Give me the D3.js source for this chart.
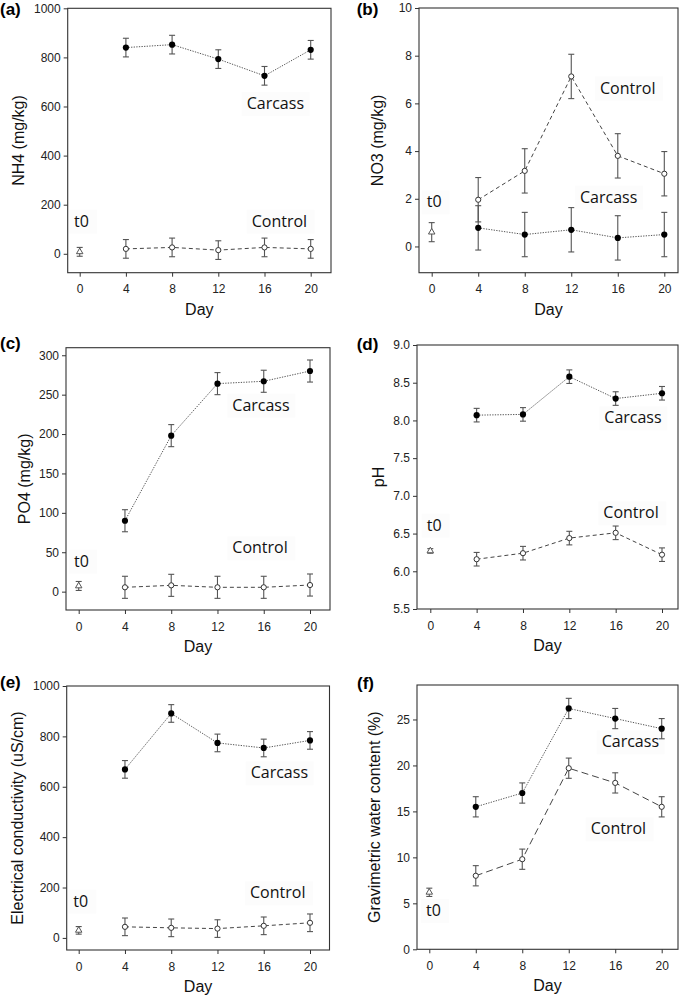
<!DOCTYPE html>
<html><head><meta charset="utf-8">
<script src="https://cdn.jsdelivr.net/npm/d3@7/dist/d3.min.js"></script>
<style>body{margin:0;background:#fff}svg{display:block}</style>
</head><body>
<svg id="chart" width="685" height="995"></svg>
<script>
// ---------- DATA ----------
const days = [4, 8, 12, 16, 20];
const t0Day = 0;
const xTicks = [0, 4, 8, 12, 16, 20];

// (a) NH4 (mg/kg)
const nh4Carcass = [840, 852, 793, 725, 831];
const nh4CarcassErr = [38, 38, 38, 38, 38];
const nh4Control = [20, 26, 15, 26, 20];
const nh4ControlErr = [38, 38, 38, 38, 38];
const nh4T0 = 8, nh4T0Err = 18;
const nh4Ticks = [0, 200, 400, 600, 800, 1000];

// (b) NO3 (mg/kg)
const no3Carcass = [0.78, 0.50, 0.70, 0.36, 0.50];
const no3CarcassErr = [0.93, 0.93, 0.93, 0.93, 0.93];
const no3Control = [1.96, 3.17, 7.13, 3.80, 3.05];
const no3ControlErr = [0.93, 0.93, 0.93, 0.93, 0.93];
const no3T0 = 0.6, no3T0Err = 0.4;
const no3Ticks = [0, 2, 4, 6, 8, 10];

// (c) PO4 (mg/kg)
const po4Carcass = [90, 198, 264, 267, 280];
const po4CarcassErr = [14, 14, 14, 14, 14];
const po4Control = [5.5, 8, 5.5, 5.5, 8.4];
const po4ControlErr = [14, 14, 14, 14, 14];
const po4T0 = 7.2, po4T0Err = 5.7;
const po4Ticks = [0, 50, 100, 150, 200, 250, 300];

// (d) pH
const phCarcass = [8.07, 8.08, 8.58, 8.29, 8.36];
const phCarcassErr = [0.09, 0.09, 0.09, 0.09, 0.09];
const phControl = [6.16, 6.24, 6.44, 6.51, 6.22];
const phControlErr = [0.09, 0.09, 0.09, 0.09, 0.09];
const phT0 = 6.27, phT0Err = 0.03;
const phTicks = [5.5, 6.0, 6.5, 7.0, 7.5, 8.0, 8.5, 9.0];

// (e) Electrical conductivity (uS/cm)
const ecCarcass = [669, 891, 774, 754, 784];
const ecCarcassErr = [35, 35, 35, 35, 35];
const ecControl = [44, 40, 37, 48, 60];
const ecControlErr = [35, 35, 35, 35, 35];
const ecT0 = 30, ecT0Err = 15;
const ecTicks = [0, 200, 400, 600, 800, 1000];

// (f) Gravimetric water content (%)
const gwcCarcass = [15.5, 17.0, 26.2, 25.1, 24.0];
const gwcCarcassErr = [1.1, 1.1, 1.1, 1.1, 1.1];
const gwcControl = [8.0, 9.8, 19.7, 18.1, 15.5];
const gwcControlErr = [1.1, 1.1, 1.1, 1.1, 1.1];
const gwcT0 = 6.2, gwcT0Err = 0.45;
const gwcTicks = [0, 5, 10, 15, 20, 25];

// ---------- LAYOUT ----------
const panels = [
  {letter:"(a)", title:"NH4 (mg/kg)", carcass:nh4Carcass, carcassErr:nh4CarcassErr, control:nh4Control, controlErr:nh4ControlErr, t0:nh4T0, t0Err:nh4T0Err, ticks:nh4Ticks, fmt:d3.format("d"),
   l:67.7, r:331, t:8.3, b:272.7, x0:79.7, x20:310.7, yDom:[-77,1000], titleX:18.5, letterPos:[0,15], ctrlDash:"4,3",
   labels:[["Carcass",246.7,109],["Control",251.7,226.7],["t0",74,226.7]]},
  {letter:"(b)", title:"NO3 (mg/kg)", carcass:no3Carcass, carcassErr:no3CarcassErr, control:no3Control, controlErr:no3ControlErr, t0:no3T0, t0Err:no3T0Err, ticks:no3Ticks, fmt:d3.format("d"),
   l:419, r:678, t:8, b:272.7, x0:431.7, x20:664.3, yDom:[-1.1,10], titleX:377, letterPos:[356.7,15], ctrlDash:"4,3",
   labels:[["Control",600,93.5],["Carcass",580,202.7],["t0",426.7,207.3]]},
  {letter:"(c)", title:"PO4 (mg/kg)", carcass:po4Carcass, carcassErr:po4CarcassErr, control:po4Control, controlErr:po4ControlErr, t0:po4T0, t0Err:po4T0Err, ticks:po4Ticks, fmt:d3.format("d"),
   l:66, r:330, t:347.7, b:610, x0:78.7, x20:310, yDom:[-23.3,309.6], titleX:24, letterPos:[0,349], ctrlDash:"4,3",
   labels:[["Carcass",232.3,410.7],["Control",232.3,553.3],["t0",74,566.7]]},
  {letter:"(d)", title:"pH", carcass:phCarcass, carcassErr:phCarcassErr, control:phControl, controlErr:phControlErr, t0:phT0, t0Err:phT0Err, ticks:phTicks, fmt:d3.format(".1f"),
   l:417, r:678, t:345, b:609, x0:430.3, x20:662, yDom:[5.5,9.0], titleX:378, letterPos:[356.7,350], ctrlDash:"4,3",
   labels:[["Carcass",604.3,423.3],["Control",603.3,518.3],["t0",426.7,530.7]]},
  {letter:"(e)", title:"Electrical conductivity (uS/cm)", carcass:ecCarcass, carcassErr:ecCarcassErr, control:ecControl, controlErr:ecControlErr, t0:ecT0, t0Err:ecT0Err, ticks:ecTicks, fmt:d3.format("d"),
   l:66.7, r:329.5, t:686, b:950, x0:78.7, x20:310, yDom:[-48,1000], titleX:17, letterPos:[0,688], ctrlDash:"4,3",
   labels:[["Carcass",250.7,778.3],["Control",250,898.3],["t0",73.3,906.7]]},
  {letter:"(f)", title:"Gravimetric water content (%)", carcass:gwcCarcass, carcassErr:gwcCarcassErr, control:gwcControl, controlErr:gwcControlErr, t0:gwcT0, t0Err:gwcT0Err, ticks:gwcTicks, fmt:d3.format("d"),
   l:417, r:678, t:685, b:949.3, x0:429.3, x20:661.7, yDom:[0,28.75], titleX:374, letterPos:[357,689], ctrlDash:"7,4",
   labels:[["Carcass",601.7,747.3],["Control",590.7,834.3],["t0",426,916]]}
];

const svg = d3.select("#chart");
const AX = "Liberation Sans, Arial, sans-serif";
const LBL = "'Open Sans', sans-serif";

panels.forEach(p => {
  const g = svg.append("g");
  const x = d3.scaleLinear().domain([0, 20]).range([p.x0, p.x20]);
  const y = d3.scaleLinear().domain(p.yDom).range([p.b, p.t]);

  // label background boxes (very faint)
  p.labels.forEach(([txt, lx, ly]) => {
    const w = txt === "t0" ? 18 : 58;
    g.append("rect").attr("x", lx - 5).attr("y", ly - 17).attr("width", w + 10).attr("height", 24)
      .attr("fill", "#fcfcfc");
  });

  // frame
  g.append("rect").attr("x", p.l).attr("y", p.t).attr("width", p.r - p.l).attr("height", p.b - p.t)
    .attr("fill", "none").attr("stroke", "#333").attr("stroke-width", 1.1);

  // axes
  const xa = g.append("g").attr("transform", `translate(0,${p.b})`)
    .call(d3.axisBottom(x).tickValues(xTicks).tickSize(4).tickSizeOuter(0).tickPadding(8).tickFormat(d3.format("d")));
  const ya = g.append("g").attr("transform", `translate(${p.l},0)`)
    .call(d3.axisLeft(y).tickValues(p.ticks).tickSize(4).tickSizeOuter(0).tickPadding(3).tickFormat(p.fmt));
  [xa, ya].forEach(a => {
    a.select(".domain").remove();
    a.selectAll("line").attr("stroke", "#333");
    a.selectAll("text").attr("font-family", AX).attr("font-size", 12).attr("fill", "#222");
  });

  // titles
  g.append("text").attr("x", (p.l + p.r) / 2).attr("y", p.b + 42).attr("text-anchor", "middle")
    .attr("font-family", AX).attr("font-size", 16).attr("fill", "#111").text("Day");
  g.append("text").attr("transform", `translate(${p.titleX},${(p.t + p.b) / 2}) rotate(-90)`)
    .attr("text-anchor", "middle").attr("dominant-baseline", "central")
    .attr("font-family", AX).attr("font-size", 16).attr("fill", "#111").text(p.title);
  g.append("text").attr("x", p.letterPos[0]).attr("y", p.letterPos[1])
    .attr("font-family", AX).attr("font-size", 17).attr("font-weight", "bold").attr("fill", "#000").text(p.letter);

  // series
  const carc = days.map((d, i) => ({d, v: p.carcass[i], e: p.carcassErr[i]}));
  const ctrl = days.map((d, i) => ({d, v: p.control[i], e: p.controlErr[i]}));
  const line = d3.line().x(d => x(d.d)).y(d => y(d.v));

  g.append("path").datum(carc).attr("d", line).attr("fill", "none")
    .attr("stroke", "#555").attr("stroke-width", 1).attr("stroke-dasharray", "1.3,1.3");
  g.append("path").datum(ctrl).attr("d", line).attr("fill", "none")
    .attr("stroke", "#444").attr("stroke-width", 1).attr("stroke-dasharray", p.ctrlDash);

  const t0pt = [{d: t0Day, v: p.t0, e: p.t0Err}];
  const errs = carc.concat(ctrl, t0pt);
  const eg = g.append("g").attr("stroke", "#555").attr("stroke-width", 1.1);
  errs.forEach(o => {
    const cx = x(o.d), y1 = y(o.v + o.e), y2 = y(o.v - o.e);
    eg.append("line").attr("x1", cx).attr("x2", cx).attr("y1", y1).attr("y2", y2);
    eg.append("line").attr("x1", cx - 3).attr("x2", cx + 3).attr("y1", y1).attr("y2", y1);
    eg.append("line").attr("x1", cx - 3).attr("x2", cx + 3).attr("y1", y2).attr("y2", y2);
  });

  g.selectAll(".cc").data(ctrl).enter().append("circle")
    .attr("cx", d => x(d.d)).attr("cy", d => y(d.v)).attr("r", 2.6)
    .attr("fill", "#fff").attr("stroke", "#333").attr("stroke-width", 1);
  g.selectAll(".cf").data(carc).enter().append("circle")
    .attr("cx", d => x(d.d)).attr("cy", d => y(d.v)).attr("r", 3.1)
    .attr("fill", "#000");
  g.selectAll(".tri").data(t0pt).enter().append("path")
    .attr("d", d3.symbol(d3.symbolTriangle).size(18))
    .attr("transform", d => `translate(${x(d.d)},${y(d.v)})`)
    .attr("fill", "#fff").attr("stroke", "#555").attr("stroke-width", 1);

  // text labels
  p.labels.forEach(([txt, lx, ly]) => {
    g.append("text").attr("x", lx).attr("y", ly).attr("font-family", LBL).attr("font-size", 16)
      .attr("fill", "#111").text(txt);
  });
});
</script>
</body></html>
